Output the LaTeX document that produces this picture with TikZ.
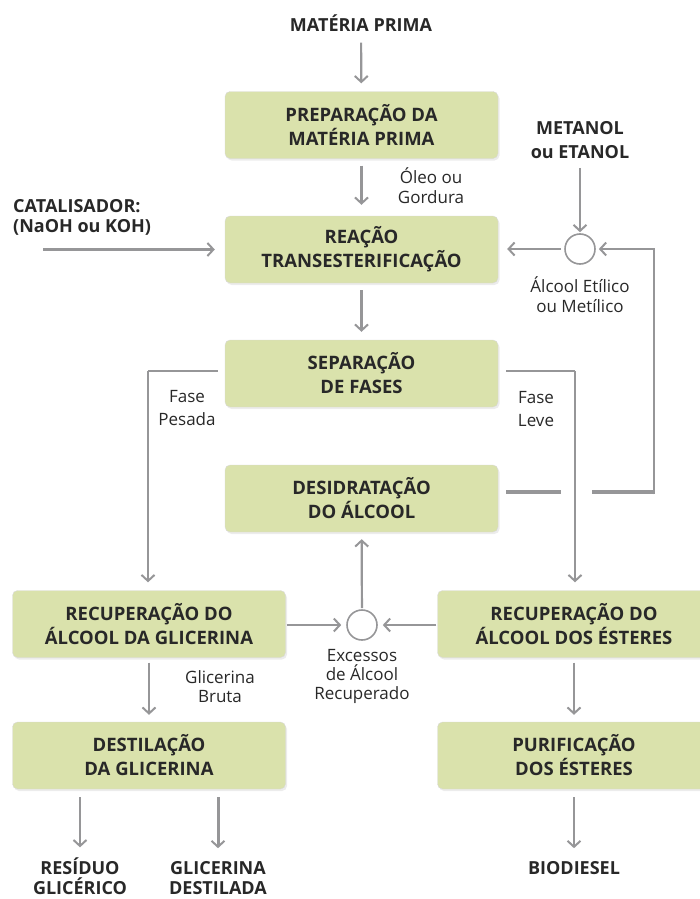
\documentclass[tikz,border=0pt]{standalone}
\usepackage{fontspec}
\setmainfont{Open Sans}
\usetikzlibrary{arrows.meta, positioning, shadows}
\definecolor{stagegreen}{RGB}{218, 226, 172}
\definecolor{linegray}{RGB}{150, 150, 152}
\definecolor{inkgray}{RGB}{40, 40, 40}

\begin{document}
\begin{tikzpicture}[x=1pt, y=-1pt,
  stagebox/.style={draw=black!15, fill=stagegreen, rounded corners=5pt,
    minimum width=273pt, minimum height=67pt, align=center, text=inkgray,
    font=\fontsize{18.5}{24}\selectfont\bfseries,
    drop shadow={opacity=0.15, shadow xshift=1.5pt, shadow yshift=-2pt}},
  headlabel/.style={align=center, text=inkgray, inner sep=1pt,
    font=\fontsize{18}{24}\selectfont\bfseries},
  smalllabel/.style={align=center, text=inkgray, inner sep=1pt,
    font=\fontsize{17}{20}\selectfont},
  mixer/.style={circle, draw=linegray, line width=1.6pt, fill=white,
    minimum size=30pt, inner sep=0pt},
  flowline/.style={draw=linegray, line width=2.2pt,
    -{Straight Barb[length=6pt, width=13pt, line width=2pt]}},
  plainline/.style={draw=linegray, line width=2.2pt},
  heavyline/.style={draw=linegray, line width=4.5pt}]

\useasboundingbox (0,0) rectangle (700,899);

% etapas do processo
\node[stagebox] (prep) at (361.5,125) {PREPARAÇÃO DA\\MATÉRIA PRIMA};
\node[stagebox] (reacao) at (361.5,249.5) {REAÇÃO\\TRANSESTERIFICAÇÃO};
\node[stagebox] (separ) at (361.5,373.5) {SEPARAÇÃO\\DE FASES};
\node[stagebox] (desid) at (361.5,498.5) {DESIDRATAÇÃO\\DO ÁLCOOL};
\node[stagebox] (recglic) at (149,624) {RECUPERAÇÃO DO\\ÁLCOOL DA GLICERINA};
\node[stagebox] (recest) at (574,624) {RECUPERAÇÃO DO\\ÁLCOOL DOS ÉSTERES};
\node[stagebox] (destil) at (149,755.5) {DESTILAÇÃO\\DA GLICERINA};
\node[stagebox] (purif) at (574,755.5) {PURIFICAÇÃO\\DOS ÉSTERES};

% entradas e saidas
\node[headlabel] (materia) at (361,23) {MATÉRIA PRIMA};
\node[headlabel] (metanol) at (580,140) {METANOL\\ou ETANOL};
\node[headlabel, align=left, anchor=west, font=\fontsize{18}{20}\selectfont\bfseries]
  (catal) at (12,217) {CATALISADOR:\\(NaOH ou KOH)};
\node[headlabel, font=\fontsize{18}{20}\selectfont\bfseries] (residuo) at (80,876) {RESÍDUO\\GLICÉRICO};
\node[headlabel, font=\fontsize{18}{20}\selectfont\bfseries] (glicdest) at (218,878) {GLICERINA\\DESTILADA};
\node[headlabel] (biodiesel) at (574,868) {BIODIESEL};

% misturadores
\node[mixer] (mixA) at (580,249) {};
\node[mixer] (mixB) at (362,625) {};

% rotulos das correntes
\node[smalllabel] (oleo) at (431,186) {Óleo ou\\Gordura};
\node[smalllabel] (alcool) at (580,295) {Álcool Etílico\\ou Metílico};
\node[smalllabel, font=\fontsize{17}{23}\selectfont] (pesada) at (187,408.5) {Fase\\Pesada};
\node[smalllabel, font=\fontsize{17}{23}\selectfont] (leve) at (536,409) {Fase\\Leve};
\node[smalllabel, font=\fontsize{17}{19}\selectfont] (bruta) at (220,686.5) {Glicerina\\Bruta};
\node[smalllabel, font=\fontsize{17}{19}\selectfont] (excessos) at (362,676) {Excessos\\de Álcool\\Recuperado};

\coordinate (catalin) at (43,249.5);
\coordinate (gapL) at (561,492);
\coordinate (gapR) at (592,492);
\coordinate (loopcorner) at (654,492);
\coordinate (pesadacorner) at (148,371);
\coordinate (levecorner) at (575,371);

% fluxo principal
\draw[flowline, shorten <=10pt, shorten >=8pt] (materia) -- (prep);
\draw[flowline, shorten <=7pt, shorten >=11pt] (prep) -- (reacao);
\draw[flowline, shorten <=7pt, shorten >=8pt] (reacao) -- (separ);
\draw[flowline, shorten >=10pt] (catalin) -- (reacao.west |- catalin);
\draw[flowline, shorten <=8pt, shorten >=1pt] (metanol) -- (mixA);
\draw[flowline, shorten <=3pt, shorten >=9pt] (mixA) -- (reacao.east |- mixA);

% fases
\draw[plainline, shorten <=7pt] (separ.west |- pesadacorner) -- (pesadacorner);
\draw[flowline, shorten >=8pt] (pesadacorner) -- (recglic.north -| pesadacorner);
\draw[plainline, shorten <=8pt] (separ.east |- levecorner) -- (levecorner);
\draw[flowline, shorten >=8pt] (levecorner) -- (recest.north -| levecorner);

% retorno do alcool
\draw[heavyline, shorten <=8pt] (desid.east |- gapL) -- (gapL);
\draw[heavyline] (gapR) -- (loopcorner);
\draw[flowline, shorten >=3pt] ([yshift=-2.25pt]loopcorner) |- (mixA);

% recuperacao
\draw[flowline, shorten <=1pt, shorten >=5pt] (recglic.east |- mixB) -- (mixB);
\draw[flowline, shorten <=1pt, shorten >=5pt] (recest.west |- mixB) -- (mixB);
\draw[flowline, shorten <=1pt, shorten >=7pt] (mixB) -- (desid);
\draw[flowline, shorten <=5pt, shorten >=7pt] (recglic) -- (destil);
\draw[flowline, shorten <=5pt, shorten >=7pt] (recest) -- (purif);

% produtos
\draw[flowline, shorten <=8pt, shorten >=9pt] (destil.south -| residuo) -- (residuo);
\draw[flowline, line width=3pt, shorten <=8pt, shorten >=12pt] (destil.south -| glicdest) -- (glicdest);
\draw[flowline, shorten <=8pt, shorten >=12pt] (purif) -- (biodiesel);
\end{tikzpicture}
\end{document}
